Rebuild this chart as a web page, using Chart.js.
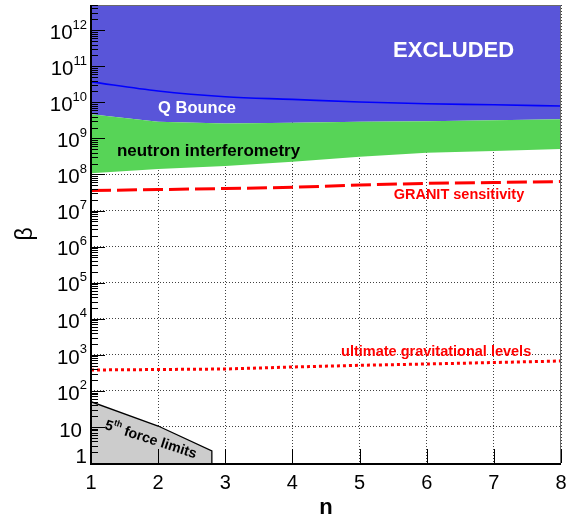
<!DOCTYPE html>
<html>
<head>
<meta charset="utf-8">
<script src="https://cdn.jsdelivr.net/npm/chart.js@4/dist/chart.umd.min.js"></script>
<style>
  html, body { margin: 0; padding: 0; background: #fff; }
  #c { display: block; }
</style>
</head>
<body>
<canvas id="c" width="575" height="517"></canvas>
<script>
// Coupling strength beta versus chameleon power n
const nValues      = [1, 2, 3, 4, 5, 6, 7, 8];
const qBounce      = [3.7e10, 2.06e10, 1.43e10, 1.21e10, 1.02e10, 9.1e9, 8.6e9, 7.9e9];
const interfUpper  = [4.65e9, 2.9e9, 2.6e9, 2.7e9, 2.9e9, 3.0e9, 3.2e9, 3.4e9];
const interfLower  = [1.08e8, 1.42e8, 1.71e8, 2.25e8, 3.1e8, 4.0e8, 4.47e8, 5.1e8];
const granit       = [3.59e7, 3.82e7, 4.07e7, 4.4e7, 5.1e7, 5.7e7, 5.98e7, 6.37e7];
const ultimate     = [379, 391, 404, 459, 511, 556, 611, 673];
const fifthForceN    = [1, 2, 2.8, 2.8];
const fifthForceBeta = [50, 10.6, 2.15, 1];
const xTicks   = [1, 2, 3, 4, 5, 6, 7, 8];
const yDecades = [0, 1, 2, 3, 4, 5, 6, 7, 8, 9, 10, 11, 12];

const FONT = '"Liberation Sans", Arial, Helvetica, sans-serif';

const pts = (xs, ys) => xs.map((x, i) => ({ x, y: ys[i] }));

// Text annotations placed in data coordinates (n, beta) at the text baseline
const notes = [
  { text: 'EXCLUDED', n: 6.40, beta: 1.84e11, color: '#ffffff', size: 22 },
  { text: 'Q Bounce', n: 2.58, beta: 5.15e9, color: '#ffffff', size: 16.5 },
  { text: 'neutron interferometry', n: 2.75, beta: 3.25e8, color: '#000000', size: 17 },
  { text: 'GRANIT sensitivity', n: 6.48, beta: 2.05e7, color: '#ff0000', size: 14.5 },
  { text: 'ultimate gravitational levels', n: 6.14, beta: 925, color: '#ff0000', size: 14.5 }
];
const fifthNote = { n: 1.89, beta: 4.4, angle: 18, size: 14.2 };

const frame = {
  id: 'frame',
  afterDatasetsDraw(chart) {
    const { ctx, chartArea: a, scales: { x, y } } = chart;
    ctx.save();

    // thin outer frame (top, right)
    ctx.strokeStyle = '#6a6a6a';
    ctx.lineWidth = 1;
    ctx.beginPath();
    ctx.moveTo(a.left, a.top + 0.5);
    ctx.lineTo(a.right - 0.5, a.top + 0.5);
    ctx.lineTo(a.right - 0.5, a.bottom);
    ctx.stroke();

    // y ticks: majors at decades, minors at 2..9
    ctx.strokeStyle = '#000';
    ctx.lineWidth = 1;
    ctx.beginPath();
    yDecades.forEach(e => {
      for (let k = 1; k <= 9; k++) {
        const v = k * Math.pow(10, e);
        if (v > y.max) break;
        const py = Math.round(y.getPixelForValue(v)) + 0.5;
        const len = k === 1 ? 14 : 7;
        ctx.moveTo(a.left, py);
        ctx.lineTo(a.left + len, py);
      }
    });
    // x ticks
    xTicks.forEach(t => {
      const px = Math.round(x.getPixelForValue(t)) + 0.5;
      ctx.moveTo(px, a.bottom);
      ctx.lineTo(px, a.bottom - 14);
    });
    ctx.stroke();

    // main axes
    ctx.lineWidth = 2;
    ctx.beginPath();
    ctx.moveTo(a.left, a.top);
    ctx.lineTo(a.left, a.bottom + 1);
    ctx.lineTo(a.right, a.bottom + 1);
    ctx.stroke();

    // y tick labels 1, 10, 10^n
    ctx.fillStyle = '#000';
    ctx.textAlign = 'right';
    ctx.textBaseline = 'alphabetic';
    yDecades.forEach(e => {
      const py = y.getPixelForValue(Math.pow(10, e));
      if (e === 0) {
        ctx.font = `20.5px ${FONT}`;
        ctx.fillText('1', 87, py);
      } else if (e === 1) {
        ctx.font = `20.5px ${FONT}`;
        ctx.fillText('10', 82, py + 10);
      } else {
        const sup = String(e);
        ctx.font = `13px ${FONT}`;
        const sw = ctx.measureText(sup).width;
        ctx.fillText(sup, 87, py - 1.5);
        ctx.font = `20.5px ${FONT}`;
        ctx.fillText('10', 87 - sw, py + 8.8);
      }
    });

    // annotations
    ctx.textAlign = 'center';
    notes.forEach(nt => {
      ctx.font = `bold ${nt.size}px ${FONT}`;
      ctx.fillStyle = nt.color;
      ctx.fillText(nt.text, x.getPixelForValue(nt.n), y.getPixelForValue(nt.beta));
    });

    // "5th force limits", rotated along the boundary
    const cx = x.getPixelForValue(fifthNote.n);
    const cy = y.getPixelForValue(fifthNote.beta);
    ctx.translate(cx, cy);
    ctx.rotate(fifthNote.angle * Math.PI / 180);
    ctx.fillStyle = '#000';
    ctx.textAlign = 'left';
    ctx.textBaseline = 'middle';
    const big = `bold ${fifthNote.size}px ${FONT}`;
    const small = `bold ${fifthNote.size * 0.62}px ${FONT}`;
    ctx.font = big;
    const w1 = ctx.measureText('5').width;
    const w3 = ctx.measureText(' force limits').width;
    ctx.font = small;
    const w2 = ctx.measureText('th').width;
    let sx = -(w1 + w2 + w3) / 2;
    ctx.font = big;
    ctx.fillText('5', sx, 0);
    ctx.font = small;
    ctx.fillText('th', sx + w1, -5);
    ctx.font = big;
    ctx.fillText(' force limits', sx + w1 + w2, 0);

    ctx.restore();
  }
};

new Chart(document.getElementById('c'), {
  type: 'line',
  data: {
    datasets: [
      { // upper edge of interferometry band; everything above is excluded
        data: pts(nValues, interfUpper), fill: 'end',
        backgroundColor: '#5955d9', borderWidth: 0, pointRadius: 0, order: 6
      },
      { // neutron interferometry band
        data: pts(nValues, interfLower), fill: 0,
        backgroundColor: '#57d457', borderWidth: 0, pointRadius: 0, order: 5
      },
      { // Q Bounce limit
        data: pts(nValues, qBounce), fill: false,
        borderColor: '#0000ff', borderWidth: 1.6, pointRadius: 0,
        cubicInterpolationMode: 'monotone', order: 2
      },
      { // GRANIT sensitivity
        data: pts(nValues, granit), fill: false,
        borderColor: '#ff0000', borderWidth: 3, borderDash: [20, 6], pointRadius: 0, order: 2
      },
      { // ultimate gravitational levels
        data: pts(nValues, ultimate), fill: false,
        borderColor: '#ff0000', borderWidth: 3, borderDash: [3, 3], pointRadius: 0, order: 2
      },
      { // fifth force limits
        data: pts(fifthForceN, fifthForceBeta), fill: 'start',
        backgroundColor: '#cccccc', borderColor: '#000000', borderWidth: 1.3,
        pointRadius: 0, order: 3
      }
    ]
  },
  options: {
    responsive: false,
    animation: false,
    events: [],
    layout: { padding: { top: 5, right: 14, bottom: 0, left: 0 } },
    plugins: { legend: { display: false }, tooltip: { enabled: false } },
    scales: {
      x: {
        type: 'linear', min: 1, max: 8,
        afterBuildTicks: s => { s.ticks = xTicks.map(v => ({ value: v })); },
        ticks: {
          color: '#000', padding: 8, maxRotation: 0,
          font: { family: FONT, size: 20 },
          callback: v => String(v)
        },
        grid: { color: 'rgba(0,0,0,0.75)', lineWidth: 1, drawTicks: false },
        border: { display: false, dash: [1, 2] },
        title: {
          display: true, text: 'n', color: '#000',
          font: { family: FONT, size: 22, weight: 'bold', lineHeight: 0.85 },
          padding: { top: 0, bottom: 0 }
        },
        afterFit: s => { s.height = 54; }
      },
      y: {
        type: 'logarithmic', min: 1, max: 5e12,
        afterBuildTicks: s => { s.ticks = yDecades.map(e => ({ value: Math.pow(10, e) })); },
        ticks: { display: false },
        grid: { color: 'rgba(0,0,0,0.75)', lineWidth: 1, drawTicks: false },
        border: { display: false, dash: [1, 2] },
        title: {
          display: true, text: 'β', color: '#000',
          font: { family: FONT, size: 23 },
          padding: { top: 12, bottom: 0 }
        },
        afterFit: s => { s.width = 91; }
      }
    }
  },
  plugins: [frame]
});
</script>
</body>
</html>
